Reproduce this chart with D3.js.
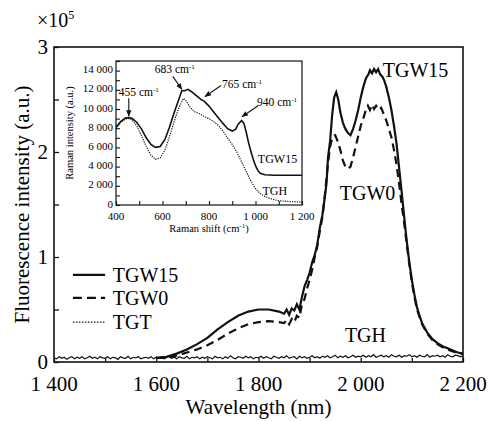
<!DOCTYPE html>
<html>
<head>
<meta charset="utf-8">
<script src="https://cdn.jsdelivr.net/npm/d3@7"></script>
<style>
  body { margin: 0; background: #fff; }
  text { font-family: 'Liberation Serif', 'DejaVu Serif', serif; }
</style>
</head>
<body>
<svg id="chart" width="491" height="421"></svg>
<script>
// ---- main chart data (intensity in units of 1e5) ----
const tgw15Wave = [1600,1620,1640,1660,1680,1700,1720,1740,1760,1780,1800,1820,1840,1850,1855,1860,1865,1870,1875,1880,1885,1890,1895,1900,1905,1910,1915,1920,1925,1930,1933,1936,1940,1944,1948,1952,1956,1960,1965,1970,1975,1980,1985,1990,1995,2000,2005,2010,2015,2018,2022,2026,2030,2034,2038,2042,2046,2050,2055,2060,2065,2070,2075,2080,2085,2090,2095,2100,2105,2110,2115,2120,2130,2140,2150,2160,2170,2180,2190,2200];
const tgw15Vals = [0.04,0.05,0.08,0.12,0.17,0.23,0.31,0.38,0.44,0.48,0.50,0.50,0.48,0.46,0.50,0.45,0.51,0.49,0.55,0.50,0.62,0.72,0.78,0.85,0.95,1.02,1.12,1.28,1.40,1.58,1.70,1.95,2.10,2.35,2.52,2.57,2.50,2.38,2.28,2.22,2.18,2.16,2.22,2.30,2.40,2.52,2.62,2.70,2.74,2.78,2.75,2.79,2.76,2.79,2.74,2.72,2.68,2.62,2.52,2.40,2.25,2.08,1.85,1.62,1.38,1.15,0.95,0.78,0.64,0.52,0.44,0.37,0.28,0.22,0.18,0.15,0.13,0.11,0.09,0.08];

const tgw0Wave = [1600,1620,1640,1660,1680,1700,1720,1740,1760,1780,1800,1820,1840,1850,1855,1860,1865,1870,1875,1880,1885,1890,1895,1900,1905,1910,1915,1920,1925,1930,1935,1940,1945,1950,1955,1960,1965,1970,1975,1980,1985,1990,1995,2000,2005,2010,2014,2018,2022,2026,2030,2035,2040,2045,2050,2055,2060,2065,2070,2075,2080,2085,2090,2095,2100,2105,2110,2115,2120,2130,2140,2150,2160,2170,2180,2190,2200];
const tgw0Vals = [0.04,0.04,0.06,0.09,0.12,0.16,0.21,0.27,0.32,0.36,0.38,0.39,0.38,0.37,0.40,0.36,0.41,0.38,0.44,0.42,0.55,0.60,0.70,0.78,0.88,1.00,1.10,1.25,1.38,1.60,1.85,2.05,2.15,2.16,2.10,2.02,1.92,1.86,1.84,1.86,1.95,2.05,2.15,2.25,2.32,2.40,2.44,2.40,2.45,2.41,2.44,2.40,2.42,2.36,2.30,2.22,2.14,2.02,1.88,1.70,1.50,1.32,1.12,0.93,0.76,0.62,0.50,0.43,0.36,0.27,0.21,0.17,0.14,0.12,0.10,0.085,0.075];

// baseline sample (TGH / TGT), every 5 nm from 1400 to 2200
const baseWave = d3.range(1400, 2201, 5);
const baseVals = [
  0.04,0.03,0.05,0.035,0.045,0.025,0.04,0.05,0.03,0.045,0.035,0.05,0.03,0.04,0.055,0.035,0.045,0.03,0.05,0.04,
  0.035,0.05,0.03,0.045,0.04,0.025,0.05,0.04,0.035,0.055,0.03,0.045,0.04,0.05,0.03,0.04,0.045,0.035,0.05,0.03,
  0.045,0.035,0.05,0.03,0.04,0.055,0.035,0.045,0.03,0.05,0.04,0.035,0.055,0.03,0.045,0.04,0.05,0.03,0.045,0.035,
  0.05,0.04,0.03,0.055,0.04,0.045,0.03,0.05,0.035,0.06,0.04,0.03,0.05,0.045,0.035,0.055,0.04,0.05,0.03,0.045,
  0.04,0.055,0.035,0.05,0.04,0.03,0.055,0.045,0.035,0.05,0.04,0.06,0.035,0.045,0.05,0.03,0.055,0.04,0.05,0.035,
  0.045,0.06,0.04,0.05,0.035,0.055,0.045,0.06,0.04,0.05,0.065,0.04,0.055,0.045,0.06,0.04,0.05,0.065,0.045,0.055,
  0.05,0.065,0.045,0.06,0.05,0.07,0.045,0.055,0.065,0.05,0.06,0.045,0.07,0.055,0.05,0.065,0.045,0.06,0.055,0.07,
  0.05,0.06,0.045,0.065,0.055,0.05,0.07,0.045,0.06,0.055,0.065,0.05,0.06,0.045,0.07,0.055,0.05,0.065,0.06,0.05,
  0.06];

const mainXTicks = [1400,1600,1800,2000,2200];
const mainXLabels = ["1 400","1 600","1 800","2 000","2 200"];
const mainYTicks = [0,1,2,3];
const mainYLabels = ["0","1","2","3"];

const legendNames = ["TGW15","TGW0","TGT"];

// ---- inset data (Raman) ----
const ramanShiftW15 = [400,420,440,455,470,490,510,530,550,570,590,610,630,650,670,683,695,710,725,740,755,765,780,800,820,840,860,880,900,915,925,940,950,960,970,980,990,1000,1010,1020,1040,1080,1120,1160,1200];
const ramanW15 = [8100,8700,9050,9100,9000,8600,7900,7000,6300,6000,6100,6800,8100,9600,11000,11900,11900,12050,11800,11500,11200,11000,10800,10300,9700,9100,8500,7950,7700,7900,8400,8800,8500,7600,6500,5600,4800,4100,3600,3300,3150,3100,3100,3100,3100];
const ramanShiftTGH = [400,420,440,455,470,490,510,530,550,570,590,610,630,650,670,690,700,710,725,740,760,780,800,820,840,860,880,900,920,940,960,980,1000,1020,1040,1060,1080,1100,1150,1200];
const ramanTGH = [7900,8600,8950,9000,8850,8200,7200,6100,5200,4750,4900,5700,7100,8700,10100,11100,10900,10500,10000,9700,9500,9200,9000,8700,8300,7700,7000,6300,5500,4500,3500,2500,1700,1200,900,700,550,450,350,300];

const insetXTicks = [400,600,800,1000,1200];
const insetXLabels = ["400","600","800","1 000","1 200"];
const insetYTicks = [0,2000,4000,6000,8000,10000,12000,14000];
const insetYLabels = ["0","2 000","4 000","6 000","8 000","10 000","12 000","14 000"];

const peaks = [
  { label: "455 cm", x: 455, y: 9250 },
  { label: "683 cm", x: 683, y: 12050 },
  { label: "765 cm", x: 783, y: 11300 },
  { label: "940 cm", x: 942, y: 9200 }
];

const svg = d3.select("#chart");

// scales
const x = d3.scaleLinear().domain([1400, 2200]).range([54, 463]);
const y = d3.scaleLinear().domain([0, 3]).range([362, 47]);
const ix = d3.scaleLinear().domain([400, 1200]).range([116, 302]);
const iy = d3.scaleLinear().domain([0, 15000]).range([205, 61]);

svg.append("defs").append("marker")
  .attr("id", "arrow")
  .attr("viewBox", "0 0 10 10")
  .attr("refX", 9).attr("refY", 5)
  .attr("markerWidth", 6).attr("markerHeight", 6)
  .attr("orient", "auto")
  .append("path").attr("d", "M0,1 L10,5 L0,9 Z").attr("fill", "#111");

// ---------- main plot ----------
const main = svg.append("g");

// ticks (inward)
main.append("g")
  .attr("transform", "translate(0," + y(0) + ")")
  .call(d3.axisBottom(x).tickValues(d3.range(1400, 2201, 100)).tickSize(-4).tickFormat(""))
  .call(g => g.select(".domain").remove());
main.append("g")
  .attr("transform", "translate(" + x(1400) + ",0)")
  .call(d3.axisLeft(y).tickValues(d3.range(0, 3.01, 0.5)).tickSize(-5).tickFormat(""))
  .call(g => g.select(".domain").remove());
main.selectAll(".tick line").attr("stroke", "#111").attr("stroke-width", 1.3);

main.selectAll(".xlab")
  .data(mainXTicks)
  .join("text")
  .attr("x", d => x(d))
  .attr("y", 391)
  .attr("text-anchor", "middle")
  .attr("font-size", 21)
  .text((d, i) => mainXLabels[i]);

main.selectAll(".ylab")
  .data(mainYTicks)
  .join("text")
  .attr("x", 48)
  .attr("y", d => y(d) + 7)
  .attr("text-anchor", "end")
  .attr("font-size", 21)
  .text((d, i) => mainYLabels[i]);

const expo = main.append("text").attr("x", 37).attr("y", 27).attr("font-size", 20);
expo.append("tspan").text("×10");
expo.append("tspan").attr("font-size", 12).attr("dy", -8).text("5");

main.append("text")
  .attr("x", x(1800))
  .attr("y", 414)
  .attr("text-anchor", "middle")
  .attr("font-size", 21)
  .text("Wavelength (nm)");

main.append("text")
  .attr("transform", "translate(29," + ((y(0) + y(3)) / 2) + ") rotate(-90)")
  .attr("text-anchor", "middle")
  .attr("font-size", 21)
  .text("Fluorescence intensity (a.u.)");

// curves
const line = d3.line().x(d => x(d[0])).y(d => y(d[1]));
main.append("path")
  .datum(d3.zip(baseWave, baseVals))
  .attr("d", line)
  .attr("fill", "none").attr("stroke", "#111").attr("stroke-width", 1.2);
main.append("path")
  .datum(d3.zip(tgw0Wave, tgw0Vals))
  .attr("d", line)
  .attr("fill", "none").attr("stroke", "#111").attr("stroke-width", 2.2)
  .attr("stroke-dasharray", "8,5");
main.append("path")
  .datum(d3.zip(tgw15Wave, tgw15Vals))
  .attr("d", line)
  .attr("fill", "none").attr("stroke", "#111").attr("stroke-width", 2.2);

// frame
main.append("rect")
  .attr("x", x(1400)).attr("y", y(3))
  .attr("width", x(2200) - x(1400)).attr("height", y(0) - y(3))
  .attr("fill", "none").attr("stroke", "#111").attr("stroke-width", 1.6);

// curve labels
main.append("text").attr("x", x(2043)).attr("y", y(2.71)).attr("font-size", 20).text("TGW15");
main.append("text").attr("x", x(1959)).attr("y", y(1.54)).attr("font-size", 20).text("TGW0");
main.append("text").attr("x", x(1969)).attr("y", y(0.19)).attr("font-size", 20).text("TGH");

// legend
const legendY = [0.83, 0.61, 0.38];
const legendDash = [null, "9,5", "1.5,1.5"];
const legend = main.selectAll(".legend")
  .data(legendNames)
  .join("g");
legend.append("line")
  .attr("x1", x(1437)).attr("x2", x(1500))
  .attr("y1", (d, i) => y(legendY[i])).attr("y2", (d, i) => y(legendY[i]))
  .attr("stroke", "#111")
  .attr("stroke-width", (d, i) => i === 2 ? 1.3 : 2.2)
  .attr("stroke-dasharray", (d, i) => legendDash[i]);
legend.append("text")
  .attr("x", x(1515))
  .attr("y", (d, i) => y(legendY[i]) + 7)
  .attr("font-size", 20)
  .text(d => d);

// ---------- inset ----------
const inset = svg.append("g");
inset.append("rect")
  .attr("x", ix(400)).attr("y", iy(15000))
  .attr("width", ix(1200) - ix(400)).attr("height", iy(0) - iy(15000))
  .attr("fill", "#fff");

inset.append("g")
  .attr("transform", "translate(0," + iy(0) + ")")
  .call(d3.axisBottom(ix).tickValues(d3.range(400, 1201, 100)).tickSize(-4).tickFormat(""))
  .call(g => g.select(".domain").remove());
inset.append("g")
  .attr("transform", "translate(" + ix(400) + ",0)")
  .call(d3.axisLeft(iy).tickValues(d3.range(0, 15001, 1000)).tickSize(-4).tickFormat(""))
  .call(g => g.select(".domain").remove());
inset.selectAll(".tick line").attr("stroke", "#111").attr("stroke-width", 1.1);

inset.selectAll(".ixlab")
  .data(insetXTicks)
  .join("text")
  .attr("x", d => ix(d))
  .attr("y", 220)
  .attr("text-anchor", "middle")
  .attr("font-size", 11)
  .text((d, i) => insetXLabels[i]);

inset.selectAll(".iylab")
  .data(insetYTicks)
  .join("text")
  .attr("x", 113)
  .attr("y", d => iy(d) + 2.5)
  .attr("text-anchor", "end")
  .attr("font-size", 11)
  .text((d, i) => insetYLabels[i]);

const ixTitle = inset.append("text")
  .attr("x", ix(800)).attr("y", 232)
  .attr("text-anchor", "middle").attr("font-size", 10.5);
ixTitle.append("tspan").text("Raman shift (cm");
ixTitle.append("tspan").attr("font-size", 7).attr("dy", -4).text("-1");
ixTitle.append("tspan").attr("dy", 4).text(")");

inset.append("text")
  .attr("transform", "translate(73," + ((iy(0) + iy(15000)) / 2) + ") rotate(-90)")
  .attr("text-anchor", "middle")
  .attr("font-size", 10.5)
  .text("Raman intensity (a.u.)");

const iline = d3.line().x(d => ix(d[0])).y(d => iy(d[1]));
inset.append("path")
  .datum(d3.zip(ramanShiftTGH, ramanTGH))
  .attr("d", iline)
  .attr("fill", "none").attr("stroke", "#111").attr("stroke-width", 1.2)
  .attr("stroke-dasharray", "1.2,1.2");
inset.append("path")
  .datum(d3.zip(ramanShiftW15, ramanW15))
  .attr("d", iline)
  .attr("fill", "none").attr("stroke", "#111").attr("stroke-width", 1.6);

inset.append("rect")
  .attr("x", ix(400)).attr("y", iy(15000))
  .attr("width", ix(1200) - ix(400)).attr("height", iy(0) - iy(15000))
  .attr("fill", "none").attr("stroke", "#111").attr("stroke-width", 1.2);

inset.append("text").attr("x", ix(1010)).attr("y", iy(4350)).attr("font-size", 12).text("TGW15");
inset.append("text").attr("x", ix(1030)).attr("y", iy(1050)).attr("font-size", 12).text("TGH");

// peak annotations: arrow offset from tip, text near arrow tail
const annOffsets = [[0, -18, -10, -20], [-9, -13, -27, -16], [16, -11, 17, -9], [16, -11, 15, -11]];
peaks.forEach((p, i) => {
  const tx = ix(p.x), ty = iy(p.y);
  const o = annOffsets[i];
  inset.append("line")
    .attr("x1", tx + o[0]).attr("y1", ty + o[1])
    .attr("x2", tx).attr("y2", ty)
    .attr("stroke", "#111").attr("stroke-width", 1.1)
    .attr("marker-end", "url(#arrow)");
  const t = inset.append("text")
    .attr("x", tx + o[2]).attr("y", ty + o[3])
    .attr("font-size", 11.5);
  t.append("tspan").text(p.label);
  t.append("tspan").attr("font-size", 7).attr("dy", -4).text("-1");
});
</script>
</body>
</html>
